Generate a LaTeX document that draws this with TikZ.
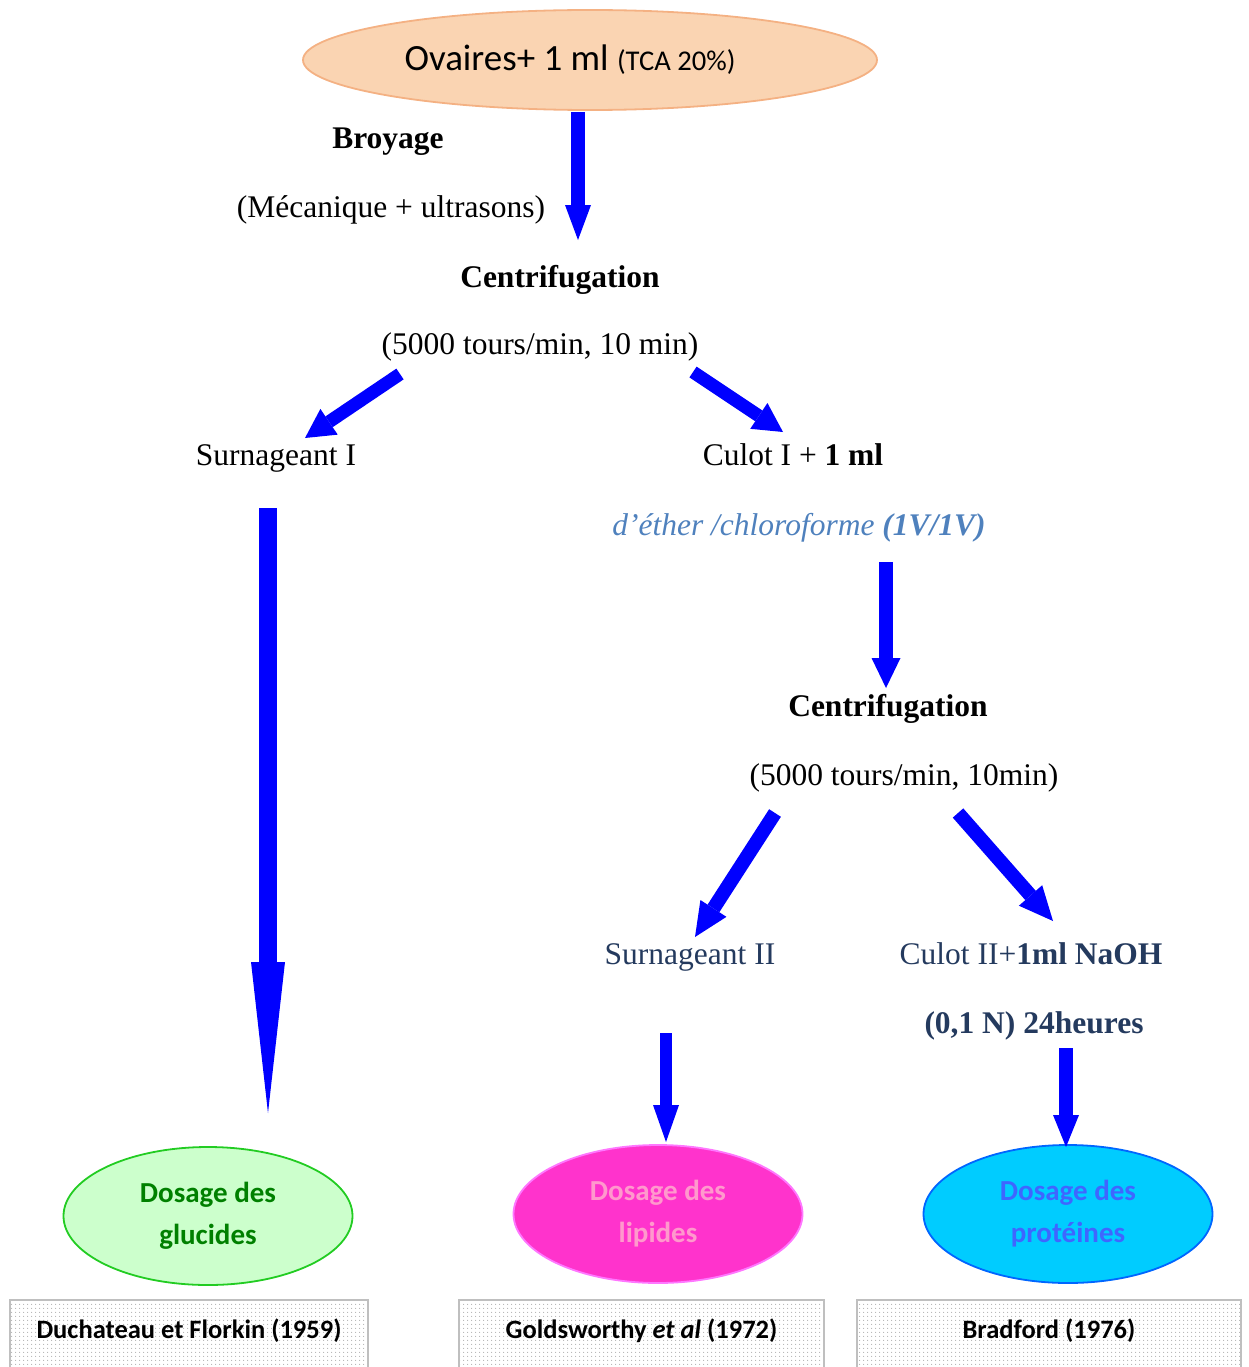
\documentclass[tikz,border=0pt]{standalone}
\usepackage{fontspec}
\setmainfont{Liberation Serif}
\setsansfont{Carlito}
\usetikzlibrary{arrows.meta,shapes.geometric,patterns.meta}
\definecolor{peachfill}{HTML}{FAD4B2}
\definecolor{peachdraw}{HTML}{F4B183}
\definecolor{accblue}{HTML}{4F81BD}
\definecolor{slate}{RGB}{36,58,94}
\definecolor{gfill}{HTML}{CCFFCC}
\definecolor{gdraw}{HTML}{22CC22}
\definecolor{gtext}{HTML}{008000}
\definecolor{pfill}{HTML}{FF33CC}
\definecolor{pdraw}{HTML}{FF77FF}
\definecolor{ptext}{HTML}{FF99CC}
\definecolor{cfill}{HTML}{00CCFF}
\definecolor{cdraw}{HTML}{0066FF}
\definecolor{ctext}{HTML}{3F66FF}
\begin{document}
\begin{tikzpicture}[x=1pt,y=-1pt,
  txt/.style={anchor=base,inner sep=0pt,font=\fontsize{31.5}{38}\selectfont},
  dosage/.style={ellipse,minimum width=289pt,minimum height=138pt,line width=1.8pt,
    align=center,inner sep=0pt,font=\sffamily\bfseries\fontsize{29}{42}\selectfont},
  refbox/.style={rectangle,anchor=north,draw=black!25,line width=2pt,
    pattern={Dots[distance=4pt,radius=0.7pt]},pattern color=black!30,
    inner xsep=0pt,inner ysep=19pt,text height=19pt,text depth=40pt,
    font=\sffamily\bfseries\fontsize{26.5}{32}\selectfont},
  flow/.style={draw=blue,line width=#1}
]
\useasboundingbox (0,0) rectangle (1248,1367);

% top ellipse
\node[ellipse,fill=peachfill,draw=peachdraw,line width=1.8pt,minimum width=574pt,minimum height=100pt,inner sep=0pt,
  font=\sffamily\fontsize{37}{44}\selectfont] (ova) at (590,60)
  {Ovaires+ 1 ml {\fontsize{28.6}{34}\selectfont(TCA 20\%)}\hspace*{40pt}};

% texts
\node[txt] (broy) at (388,149) {\bfseries Broyage};
\node[txt] (meca) at (391,217) {(Mécanique + ultrasons)};
\node[txt] (cen1) at (560,287) {\bfseries Centrifugation};
\node[txt] (par1) at (540,354) {(5000 tours/min, 10 min)};
\node[txt] (sur1) at (276,465) {Surnageant I};
\node[txt] (cul1) at (793,465) {Culot I + \textbf{1 ml}};
\node[txt,text=accblue] (eth) at (799,535) {\itshape d’éther /chloroforme \textbf{(1V/1V)}};
\node[txt] (cen2) at (888,716) {\bfseries Centrifugation};
\node[txt] (par2) at (904,785) {(5000 tours/min, 10min)};
\node[txt,text=slate] (sur2) at (690,964) {Surnageant II};
\node[txt,text=slate] (cul2) at (1031,964) {Culot II+\textbf{1ml NaOH}};
\node[txt,text=slate] (naoh) at (1034,1033) {\bfseries (0,1 N) 24heures};

% result ellipses
\node[dosage,fill=gfill,draw=gdraw,text=gtext] (glu) at (208,1216) {Dosage des\\glucides};
\node[dosage,fill=pfill,draw=pdraw,text=ptext] (lip) at (658,1214) {Dosage des\\lipides};
\node[dosage,fill=cfill,draw=cdraw,text=ctext] (pro) at (1068,1214) {Dosage des\\protéines};

% reference boxes
\node[refbox,minimum width=358pt] (r1) at (189,1299) {Duchateau et Florkin (1959)};
\node[refbox,minimum width=365pt] (r2) at (641.5,1299) {Goldsworthy \textit{et al} (1972)};
\node[refbox,minimum width=384pt] (r3) at (1049,1299) {Bradford (1976)};

% arrow end points
\coordinate (a1s) at (578,112);  \coordinate (a1e) at (578,240);
\coordinate (a2s) at (400,374);  \coordinate (a2e) at (305,438);
\coordinate (a3s) at (693,372);  \coordinate (a3e) at (783,432);
\coordinate (a4s) at (268,508);  \coordinate (a4e) at (268,1113);
\coordinate (a5s) at (886,562);  \coordinate (a5e) at (886,688);
\coordinate (a6s) at (775,813);  \coordinate (a6e) at (695,937);
\coordinate (a7s) at (958,813);  \coordinate (a7e) at (1053,921);
\coordinate (a8s) at (666,1033); \coordinate (a8e) at (666,1142);
\coordinate (a9s) at (1066,1048);\coordinate (a9e) at (1066,1147);

\draw[flow=14pt,-{Triangle[width=26pt,length=35pt,line width=0pt]}] (a1s) -- (a1e);
\draw[flow=13pt,-{Triangle[width=31pt,length=29pt,line width=0pt]}] (a2s) -- (a2e);
\draw[flow=13pt,-{Triangle[width=31pt,length=29pt,line width=0pt]}] (a3s) -- (a3e);
\draw[flow=18pt,-{Triangle[width=34pt,length=151pt,line width=0pt]}] (a4s) -- (a4e);
\draw[flow=14pt,-{Triangle[width=29pt,length=30pt,line width=0pt]}] (a5s) -- (a5e);
\draw[flow=14pt,-{Triangle[width=31pt,length=34pt,line width=0pt]}] (a6s) -- (a6e);
\draw[flow=14pt,-{Triangle[width=31pt,length=34pt,line width=0pt]}] (a7s) -- (a7e);
\draw[flow=12pt,-{Triangle[width=26pt,length=37pt,line width=0pt]}] (a8s) -- (a8e);
\draw[flow=14pt,-{Triangle[width=26pt,length=32pt,line width=0pt]}] (a9s) -- (a9e);
\end{tikzpicture}
\end{document}
